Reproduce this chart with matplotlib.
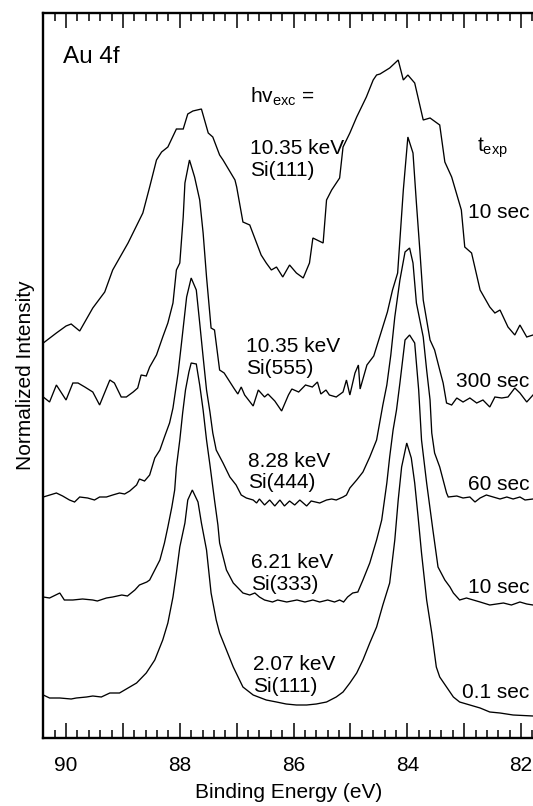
import matplotlib
matplotlib.use("Agg")
import matplotlib.pyplot as plt
from matplotlib.ticker import MultipleLocator, FuncFormatter

plt.rcParams['font.family'] = ['Liberation Sans', 'DejaVu Sans']
plt.rcParams['mathtext.fontset'] = 'custom'
plt.rcParams['mathtext.rm'] = 'Liberation Sans'
plt.rcParams['mathtext.it'] = 'Liberation Sans:italic'
plt.rcParams['mathtext.bf'] = 'Liberation Sans:bold'

# ---------------- data (binding energy in eV, intensity in arbitrary units) ----------------
# 10.35 keV, Si(111), 10 sec
energy_1035_si111 = [90.40, 90.17, 90.00, 89.91, 89.76, 89.53, 89.32, 89.18, 88.91, 88.65,
                     88.53, 88.41, 88.32, 88.21, 88.06, 87.94, 87.86, 87.77, 87.62, 87.50,
                     87.42, 87.30, 87.24, 87.03, 87.00, 86.89, 86.77, 86.57, 86.48, 86.39,
                     86.30, 86.19, 86.07, 85.95, 85.83, 85.72, 85.66, 85.48, 85.42, 85.33,
                     85.19, 85.13, 85.01, 84.89, 84.72, 84.60, 84.54, 84.48, 84.31, 84.16,
                     84.07, 83.99, 83.87, 83.72, 83.60, 83.43, 83.34, 83.22, 83.05, 82.99,
                     82.87, 82.72, 82.55, 82.46, 82.37, 82.23, 82.11, 82.02, 81.90, 81.79]
intens_1035_si111 = [0, 10, 17, 19, 12, 35, 51, 73, 100, 130,
                     156, 183, 191, 196, 214, 214, 229, 232, 234, 210,
                     206, 188, 183, 163, 156, 121, 118, 88, 80, 73,
                     76, 66, 78, 70, 65, 80, 105, 100, 143, 153,
                     165, 196, 210, 226, 246, 263, 268, 269, 275, 283,
                     263, 268, 260, 223, 225, 218, 181, 166, 133, 96,
                     90, 53, 36, 30, 33, 16, 8, 18, 6, 8]

# 10.35 keV, Si(555), 300 sec
energy_1035_si555 = [90.40, 90.29, 90.17, 90.00, 89.88, 89.79, 89.67, 89.53, 89.41, 89.23,
                     89.15, 89.03, 88.94, 88.82, 88.74, 88.68, 88.59, 88.53, 88.41, 88.30,
                     88.21, 88.12, 88.06, 88.00, 87.94, 87.91, 87.83, 87.74, 87.65, 87.59,
                     87.53, 87.45, 87.39, 87.30, 87.22, 87.04, 86.98, 86.92, 86.86, 86.71,
                     86.62, 86.51, 86.45, 86.33, 86.21, 86.09, 86.03, 85.91, 85.79, 85.67,
                     85.58, 85.52, 85.43, 85.37, 85.25, 85.13, 85.07, 85.01, 84.92, 84.86,
                     84.83, 84.71, 84.59, 84.47, 84.35, 84.26, 84.17, 84.07, 83.99, 83.90,
                     83.84, 83.78, 83.72, 83.60, 83.52, 83.43, 83.37, 83.31, 83.22, 83.13,
                     83.02, 82.90, 82.78, 82.67, 82.55, 82.46, 82.34, 82.23, 82.11, 82.02,
                     81.90, 81.79]
intens_1035_si555 = [0, -5, 12, -3, 14, 14, 10, 5, -8, 17,
                     14, 0, 0, 5, 9, 22, 21, 30, 42, 60,
                     74, 94, 127, 134, 180, 214, 237, 220, 197, 164,
                     120, 69, 67, 27, 24, 8, 3, 10, 2, -9,
                     7, 0, 3, -4, -14, 2, 8, 5, 12, 10,
                     15, 3, 7, 2, 0, 5, 17, 2, 24, 32,
                     8, 32, 41, 63, 85, 107, 124, 207, 260, 244,
                     194, 147, 97, 57, 47, 27, 14, -6, -8, -1,
                     -5, -1, -6, -3, -10, 0, -1, 0, 9, 4,
                     -5, 2]

# 8.28 keV, Si(444), 60 sec
energy_828_si444 = [90.40, 90.17, 90.06, 89.94, 89.85, 89.76, 89.62, 89.50, 89.41, 89.29,
                    89.18, 89.06, 88.97, 88.88, 88.76, 88.71, 88.62, 88.53, 88.44, 88.35,
                    88.27, 88.18, 88.12, 88.03, 87.97, 87.88, 87.80, 87.71, 87.65, 87.59,
                    87.53, 87.47, 87.42, 87.36, 87.24, 87.12, 87.01, 86.92, 86.83, 86.71,
                    86.65, 86.60, 86.51, 86.42, 86.33, 86.24, 86.16, 86.07, 85.98, 85.89,
                    85.77, 85.69, 85.54, 85.42, 85.33, 85.25, 85.13, 85.07, 85.01, 84.89,
                    84.78, 84.66, 84.54, 84.43, 84.36, 84.29, 84.22, 84.13, 84.04, 83.96,
                    83.90, 83.84, 83.72, 83.66, 83.60, 83.57, 83.52, 83.43, 83.31, 83.28,
                    83.13, 83.02, 82.90, 82.81, 82.72, 82.61, 82.49, 82.37, 82.25, 82.14,
                    82.02, 81.93, 81.79]
intens_828_si444 = [0, 4, 1, -3, -5, 0, -1, -3, 0, 0,
                    2, 4, 3, 6, 12, 18, 16, 22, 39, 47,
                    60, 74, 89, 124, 154, 200, 219, 207, 174, 140,
                    107, 85, 64, 47, 34, 20, 12, 2, -1, -3,
                    -6, -2, -8, -3, -9, -3, -9, -4, -8, -3,
                    -9, -4, -6, -3, -2, -3, 0, 2, 9, 17,
                    25, 40, 57, 92, 112, 142, 180, 217, 245, 249,
                    234, 194, 160, 127, 97, 64, 44, 30, 4, 0,
                    1, -1, 0, -5, -1, 2, 0, -2, 0, -2,
                    0, -3, -2]

# 6.21 keV, Si(333), 10 sec
energy_621_si333 = [90.40, 90.29, 90.11, 90.03, 89.88, 89.71, 89.53, 89.45, 89.29, 89.18,
                    89.02, 88.92, 88.79, 88.71, 88.58, 88.53, 88.44, 88.35, 88.27, 88.21,
                    88.14, 88.09, 88.06, 88.00, 87.95, 87.90, 87.84, 87.80, 87.71, 87.65,
                    87.59, 87.53, 87.47, 87.39, 87.33, 87.30, 87.18, 87.06, 86.89, 86.77,
                    86.68, 86.60, 86.51, 86.37, 86.28, 86.12, 85.94, 85.80, 85.66, 85.54,
                    85.40, 85.28, 85.19, 85.12, 85.05, 84.96, 84.87, 84.78, 84.66, 84.54,
                    84.45, 84.36, 84.31, 84.25, 84.19, 84.13, 84.04, 83.96, 83.87, 83.80,
                    83.75, 83.66, 83.55, 83.46, 83.34, 83.25, 83.19, 83.08, 82.96, 82.84,
                    82.72, 82.55, 82.43, 82.31, 82.17, 82.02, 81.90, 81.79]
intens_621_si333 = [0, -1, 4, -3, -3, -2, -3, -4, -1, 0,
                    2, 1, 7, 12, 15, 17, 27, 37, 54, 70,
                    90, 107, 130, 157, 184, 207, 225, 234, 233, 212,
                    187, 157, 132, 97, 72, 54, 27, 14, 4, 2,
                    4, 0, -3, -5, -3, -5, -3, -5, -3, -5,
                    -3, -5, -3, -5, 0, 4, 5, 17, 34, 57,
                    77, 114, 140, 167, 187, 214, 257, 262, 254, 207,
                    157, 114, 67, 30, 17, 10, 4, -3, -1, -3,
                    -5, -8, -7, -6, -8, -5, -7, -8]

# 2.07 keV, Si(111), 0.1 sec
energy_207_si111 = [90.40, 90.29, 90.11, 89.91, 89.82, 89.64, 89.53, 89.38, 89.23, 89.06,
                    88.94, 88.76, 88.59, 88.44, 88.30, 88.21, 88.12, 88.06, 88.00, 87.91,
                    87.86, 87.78, 87.68, 87.62, 87.53, 87.45, 87.36, 87.30, 87.18, 87.06,
                    86.89, 86.71, 86.48, 86.30, 86.13, 85.95, 85.77, 85.60, 85.42, 85.25,
                    85.13, 85.01, 84.89, 84.78, 84.66, 84.54, 84.43, 84.31, 84.22, 84.16,
                    84.10, 84.01, 83.93, 83.87, 83.81, 83.75, 83.66, 83.57, 83.49, 83.43,
                    83.31, 83.19, 83.08, 82.90, 82.72, 82.55, 82.37, 82.14, 81.79]
intens_207_si111 = [0, -3, -3, -4, -3, -2, -1, -2, 2, 2,
                    6, 12, 22, 35, 55, 72, 98, 122, 148, 172,
                    195, 205, 193, 172, 145, 102, 75, 62, 45, 28,
                    8, 0, -5, -7, -9, -10, -10, -9, -7, -2,
                    3, 12, 22, 35, 52, 68, 90, 112, 155, 195,
                    228, 252, 237, 212, 178, 142, 95, 62, 28, 18,
                    8, -2, -7, -10, -13, -17, -18, -20, -21]

# vertical offsets of the stacked spectra
offsets = [395, 341, 241, 141, 43]

photon_labels = ["10.35 keV\nSi(111)", "10.35 keV\nSi(555)", "8.28 keV\nSi(444)",
                 "6.21 keV\nSi(333)", "2.07 keV\nSi(111)"]
time_labels = ["10 sec", "300 sec", "60 sec", "10 sec", "0.1 sec"]

energies = [energy_1035_si111, energy_1035_si555, energy_828_si444,
            energy_621_si333, energy_207_si111]
intensities = [intens_1035_si111, intens_1035_si555, intens_828_si444,
               intens_621_si333, intens_207_si111]

# ---------------- layout ----------------
W, H = 533, 806
fig = plt.figure(figsize=(W / 100, H / 100), dpi=100)
ax_left, ax_bottom, ax_top = 43.3, 68, 793
ax = fig.add_axes([ax_left / W, ax_bottom / H, 1 - ax_left / W, (ax_top - ax_bottom) / H])

for E, I, off in zip(energies, intensities, offsets):
    ax.plot(E, [v + off for v in I], color='black', lw=0.95, solid_joinstyle='miter')

ax.set_xlim(90.40, 81.79)
ax.set_ylim(0, 725)

ax.spines['right'].set_visible(False)
for s in ['left', 'top', 'bottom']:
    ax.spines[s].set_linewidth(1.7)

ax.xaxis.set_major_locator(MultipleLocator(1))
ax.xaxis.set_minor_locator(MultipleLocator(0.2))
ax.xaxis.set_major_formatter(FuncFormatter(
    lambda v, p: f"{v:.0f}" if round(v) % 2 == 0 else ""))
ax.tick_params(axis='x', which='both', direction='in', top=True, bottom=True,
               width=1.1, labelsize=15, pad=13)
ax.tick_params(axis='x', which='major', length=10.5)
ax.tick_params(axis='x', which='minor', length=5.5)
ax.tick_params(axis='y', which='both', left=False, right=False, labelleft=False)

ax.set_xlabel("Binding Energy (eV)", fontsize=15, labelpad=6)
ax.set_ylabel("Normalized Intensity", fontsize=15, labelpad=6)

fs = 15
ax.text(90.06, 675, "Au 4f", fontsize=17.5, ha='left', va='baseline')
ax.text(86.77, 635, r"hv$_{\mathrm{exc}}$ =", fontsize=fs, ha='left', va='baseline')
ax.text(82.78, 586, r"t$_{\mathrm{exp}}$", fontsize=fs, ha='left', va='baseline')

label_x = [86.77, 86.83, 86.80, 86.74, 86.71]
label_y = [584, 386.5, 271.5, 170, 68]
time_y = [520, 351.5, 248, 145, 40]
for lx, ly, ty, pl, tl in zip(label_x, label_y, time_y, photon_labels, time_labels):
    first, second = pl.split("\n")
    ax.text(lx, ly, first, fontsize=fs, ha='left', va='baseline')
    ax.text(lx, ly - 22, second, fontsize=fs, ha='left', va='baseline')
    ax.text(81.86, ty, tl, fontsize=fs, ha='right', va='baseline')

fig.savefig("out.png", dpi=100)
